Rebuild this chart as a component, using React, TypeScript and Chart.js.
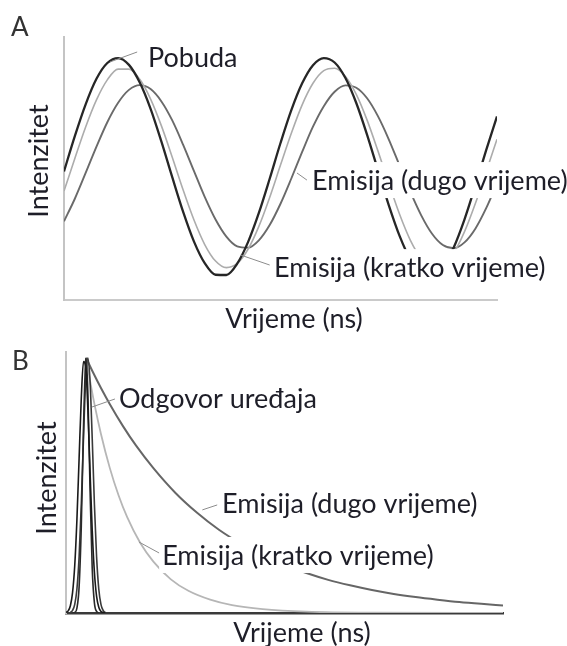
import React, { useEffect, useRef } from "react";
import { Chart, registerables } from "chart.js";

Chart.register(...registerables);

// ---------- Panel A: sinusoidally modulated excitation and emission ----------
const timeA = [
  0, 2.5, 5, 7.5, 10, 12.5, 15, 17.5, 20, 22.5, 25, 27.5, 30, 32.5, 35, 37.5, 40,
  42.5, 45, 47.5, 50, 52.5, 55, 57.5, 60, 62.5, 65, 67.5, 70, 72.5, 75, 77.5, 80,
  82.5, 85, 87.5, 90, 92.5, 95, 97.5, 100,
];
const pobudaA = [
  48.9, 62.3, 74.4, 84.1, 90.1, 92.0, 89.4, 82.7, 72.7, 60.2, 46.7, 33.6, 22.3,
  14.0, 9.6, 9.5, 13.8, 22.0, 33.1, 46.1, 59.7, 72.2, 82.4, 89.3, 92.0, 90.3,
  84.4, 74.9, 62.8, 49.4, 36.1, 24.4, 15.4, 10.2, 9.2, 12.6, 20.0, 30.7, 43.5,
  57.0, 69.8,
];
const kratkoA = [
  41.4, 53.8, 65.8, 76.1, 83.7, 87.8, 87.8, 83.9, 76.4, 66.2, 54.3, 41.9, 30.5,
  21.1, 14.8, 12.3, 13.9, 19.3, 28.0, 39.0, 51.3, 63.4, 74.2, 82.4, 87.2, 88.1,
  85.0, 78.2, 68.4, 56.7, 44.4, 32.6, 22.7, 15.8, 12.5, 13.2, 17.9, 26.0, 36.7,
  48.8, 61.1,
];
const dugoA = [
  29.9, 38.5, 48.3, 58.3, 67.6, 75.0, 79.9, 81.7, 80.2, 75.5, 68.3, 59.1, 49.1,
  39.2, 30.6, 24.1, 20.4, 19.9, 22.7, 28.5, 36.6, 46.2, 56.3, 65.9, 73.7, 79.2,
  81.6, 80.7, 76.7, 69.9, 61.1, 51.1, 41.1, 32.2, 25.2, 20.9, 19.7, 21.9, 27.1,
  34.9, 44.3,
];

// ---------- Panel B: pulse (time-domain) measurement ----------
const odgovor1X = [0, 0.5, 1, 1.5, 2, 2.5, 3, 3.5, 4, 4.5, 5, 5.5, 6, 6.5, 7, 7.5, 8, 8.5, 9];
const odgovor1Y = [0.2, 0.8, 2.8, 7.8, 18.2, 35.8, 59.3, 82.4, 96.3, 94.7, 78.2, 54.3, 31.7, 15.6, 6.4, 2.2, 0.6, 0.2, 0];
const odgovor2X = [1.5, 2, 2.5, 3, 3.5, 4, 4.5, 4.6, 5, 5.5, 6, 6.5, 7, 7.5];
const odgovor2Y = [0, 0.2, 1.9, 10.0, 33.3, 70.9, 96.8, 97.7, 84.7, 47.5, 17.1, 3.9, 0.6, 0];
const odgovor3X = [1, 1.5, 2, 2.5, 3, 3.5, 4, 4.5, 5, 5.5, 6, 6.5, 7, 7.5, 8, 8.5, 9, 9.5];
const odgovor3Y = [0.2, 1.0, 3.3, 9.2, 21.5, 41.7, 66.9, 88.9, 97.7, 88.9, 66.9, 41.7, 21.5, 9.2, 3.3, 1.0, 0.2, 0];
const kratkoBX = [4.6, 5.5, 6.5, 8, 10, 12, 14, 17, 20, 24, 28, 33, 38, 45, 55, 70, 100];
const kratkoBY = [97.7, 89.0, 80.1, 68.6, 55.7, 45.2, 36.7, 26.8, 19.7, 12.9, 8.5, 5.1, 3.0, 1.5, 0.5, 0.1, 0];
const dugoBX = [4.6, 6, 8, 10, 13, 16, 20, 25, 30, 35, 40, 45, 50, 55, 60, 65, 70, 75, 80, 85, 90, 95, 100];
const dugoBY = [97.7, 92.8, 86.2, 80.1, 71.7, 64.2, 55.5, 46.1, 38.4, 31.9, 26.6, 22.1, 18.4, 15.3, 12.7, 10.6, 8.8, 7.3, 6.1, 5.1, 4.2, 3.5, 2.9];

// ---------- Text ----------
const xTitle = "Vrijeme (ns)";
const yTitle = "Intenzitet";
const labelTextsA = ["Pobuda", "Emisija (dugo vrijeme)", "Emisija (kratko vrijeme)"];
const labelTextsB = ["Odgovor uređaja", "Emisija (dugo vrijeme)", "Emisija (kratko vrijeme)"];

const FONT = "27px Lato, 'Open Sans', sans-serif";
const TEXT_COLOR = "#1e1e28";
const LEADER_COLOR = "#8c8c8c";

type Label = {
  text: string;
  x: number; y: number; // text anchor (left, baseline) in data units
  l: [number, number, number, number]; // leader line in data units
  box: boolean;
};

const annotationsA: Label[] = [
  { text: labelTextsA[0], x: 19.4, y: 88.6, l: [10.6, 90.5, 16.9, 94.3], box: false },
  { text: labelTextsA[1], x: 57.3, y: 41.8, l: [53.8, 48.3, 56.1, 45.6], box: true },
  { text: labelTextsA[2], x: 48.5, y: 8.7, l: [40.8, 17.1, 47.5, 13.3], box: true },
];
const annotationsB: Label[] = [
  { text: labelTextsB[0], x: 12.1, y: 78.5, l: [5.9, 78.9, 11.2, 82.0], box: false },
  { text: labelTextsB[1], x: 35.7, y: 38.3, l: [31.2, 39.5, 34.6, 41.4], box: true },
  { text: labelTextsB[2], x: 22.0, y: 18.4, l: [16.7, 27.2, 21.3, 23.0], box: true },
];

type Decor = {
  letter: string; letterX: number; letterY: number;
  xTitleX: number; xTitleY: number;
  yTitleX: number; yTitleY: number;
};

function makePlugin(labels: Label[], d: Decor) {
  return {
    id: "decor",
    afterDatasetsDraw(chart: any) {
      const { ctx } = chart;
      const xs = chart.scales.x;
      const ys = chart.scales.y;
      ctx.save();
      ctx.font = FONT;
      for (const lb of labels) {
        if (!lb.box) continue;
        const px = xs.getPixelForValue(lb.x);
        const py = ys.getPixelForValue(lb.y);
        const w = ctx.measureText(lb.text).width;
        ctx.fillStyle = "#ffffff";
        ctx.fillRect(px - 3, py - 28, w + 8, 36);
      }
      ctx.strokeStyle = LEADER_COLOR;
      ctx.lineWidth = 1;
      for (const lb of labels) {
        ctx.beginPath();
        ctx.moveTo(xs.getPixelForValue(lb.l[0]), ys.getPixelForValue(lb.l[1]));
        ctx.lineTo(xs.getPixelForValue(lb.l[2]), ys.getPixelForValue(lb.l[3]));
        ctx.stroke();
      }
      ctx.fillStyle = TEXT_COLOR;
      ctx.textAlign = "left";
      ctx.textBaseline = "alphabetic";
      for (const lb of labels) {
        ctx.fillText(lb.text, xs.getPixelForValue(lb.x), ys.getPixelForValue(lb.y));
      }
      ctx.restore();
    },
    afterDraw(chart: any) {
      const { ctx } = chart;
      ctx.save();
      ctx.fillStyle = TEXT_COLOR;
      ctx.font = FONT;
      ctx.textBaseline = "alphabetic";
      ctx.textAlign = "center";
      ctx.fillText(xTitle, d.xTitleX, d.xTitleY);
      ctx.save();
      ctx.translate(d.yTitleX, d.yTitleY);
      ctx.rotate(-Math.PI / 2);
      ctx.fillText(yTitle, 0, 0);
      ctx.restore();
      ctx.fillStyle = "#333333";
      ctx.font = "26px Lato, 'Open Sans', sans-serif";
      ctx.textAlign = "left";
      ctx.fillText(d.letter, d.letterX, d.letterY);
      ctx.restore();
    },
  };
}

function baseOptions(padding: any, bottomBorder: { color: string; width: number }) {
  return {
    responsive: false,
    animation: false as const,
    events: [],
    layout: { padding },
    plugins: { legend: { display: false }, tooltip: { enabled: false } },
    scales: {
      x: {
        type: "linear" as const,
        min: 0,
        max: 100,
        ticks: { display: false, padding: 0 },
        grid: { display: false, drawTicks: false, tickLength: 0 },
        border: { display: true, color: bottomBorder.color, width: bottomBorder.width },
      },
      y: {
        min: 0,
        max: 100,
        ticks: { display: false, padding: 0 },
        grid: { display: false, drawTicks: false, tickLength: 0 },
        border: { display: true, color: "#c4c4c4", width: 2 },
      },
    },
  };
}

const zip = (xs: number[], ys: number[]) => xs.map((x, i) => ({ x, y: ys[i] }));

export default function App() {
  const refA = useRef<HTMLCanvasElement>(null);
  const refB = useRef<HTMLCanvasElement>(null);

  useEffect(() => {
    const line = (data: any[], color: string, width: number) => ({
      data,
      borderColor: color,
      borderWidth: width,
      pointRadius: 0,
      fill: false,
      cubicInterpolationMode: "monotone" as const,
    });

    const chartA = new Chart(refA.current!, {
      type: "line",
      data: {
        datasets: [
          line(zip(timeA, pobudaA), "#262626", 2.3),
          line(zip(timeA, kratkoA), "#acacac", 1.6),
          line(zip(timeA, dugoA), "#6a6a6a", 1.9),
        ],
      },
      options: baseOptions({ left: 64, top: 37, right: 70, bottom: 40 }, { color: "#cacaca", width: 2 }) as any,
      plugins: [
        makePlugin(annotationsA, {
          letter: "A", letterX: 11, letterY: 36,
          xTitleX: 294, xTitleY: 328,
          yTitleX: 48, yTitleY: 161,
        }),
      ],
    });

    const chartB = new Chart(refB.current!, {
      type: "line",
      data: {
        datasets: [
          line(zip(odgovor1X, odgovor1Y), "#1a1a1a", 1.6),
          line(zip(odgovor2X, odgovor2Y), "#2a2a2a", 1.6),
          line(zip(odgovor3X, odgovor3Y), "#3a3a3a", 1.6),
          line(zip(dugoBX, dugoBY), "#666666", 2),
          line(zip(kratkoBX, kratkoBY), "#b6b6b6", 1.8),
        ],
      },
      options: baseOptions({ left: 66, top: 12, right: 64, bottom: 33 }, { color: "#3a3a3a", width: 2.5 }) as any,
      plugins: [
        makePlugin(annotationsB, {
          letter: "B", letterX: 12, letterY: 30,
          xTitleX: 302, xTitleY: 302,
          yTitleX: 56, yTitleY: 138,
        }),
      ],
    });

    return () => {
      chartA.destroy();
      chartB.destroy();
    };
  }, []);

  return (
    <div style={{ position: "absolute", left: 0, top: 0, width: 567, height: 646, background: "#fff" }}>
      <canvas ref={refA} width={567} height={340} style={{ position: "absolute", left: 0, top: 0 }} />
      <canvas ref={refB} width={567} height={306} style={{ position: "absolute", left: 0, top: 340 }} />
    </div>
  );
}
